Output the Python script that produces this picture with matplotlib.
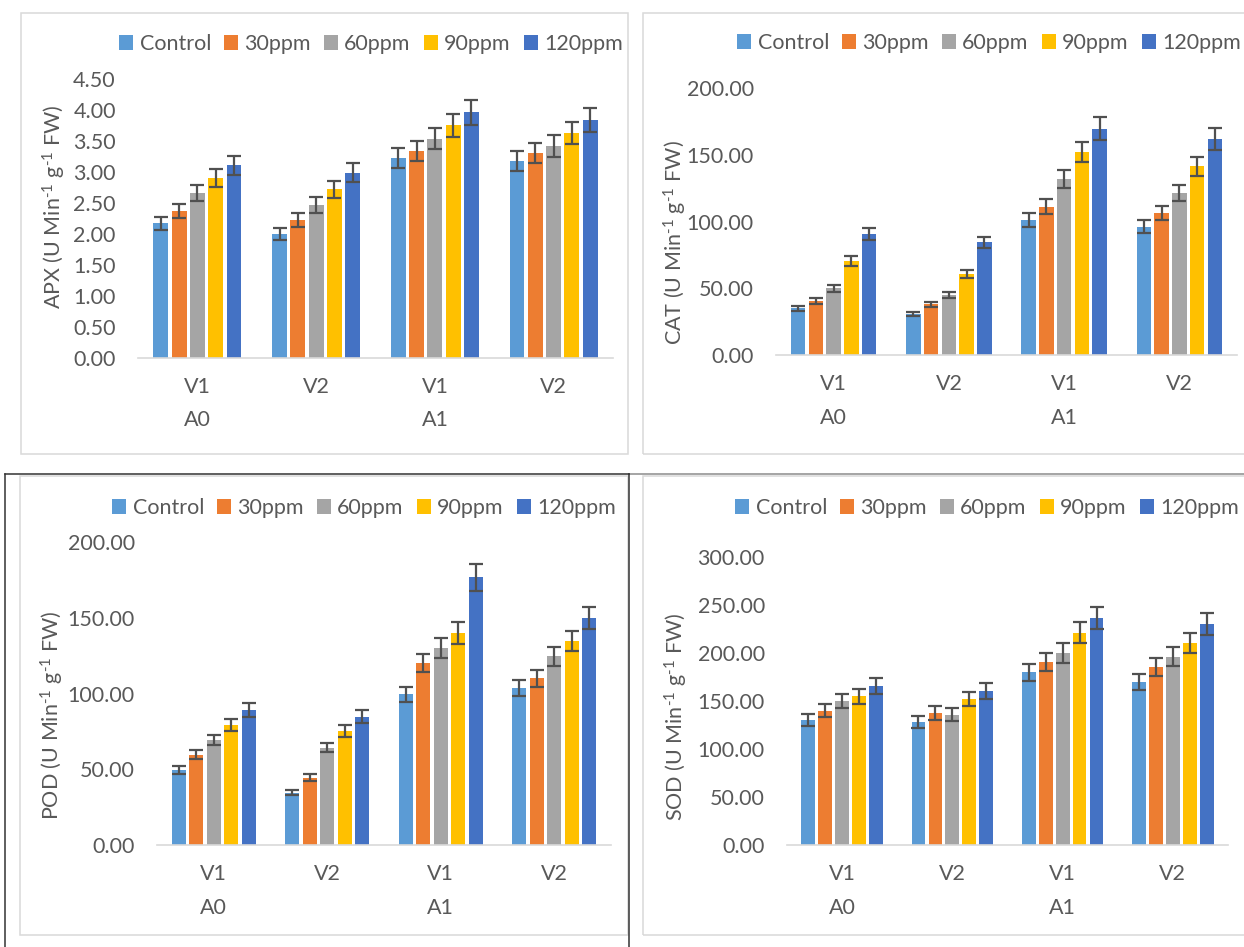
import numpy as np
import matplotlib
matplotlib.use("Agg")
import matplotlib.pyplot as plt
from matplotlib.patches import Rectangle
from matplotlib.lines import Line2D

plt.rcParams['font.family'] = ['Lato', 'DejaVu Sans']
plt.rcParams['mathtext.fontset'] = 'custom'
plt.rcParams['mathtext.rm'] = 'Lato'
plt.rcParams['mathtext.default'] = 'regular'

# categories
varieties = ['V1', 'V2', 'V1', 'V2']
levels = ['A0', 'A1']
treatments = ['Control', '30ppm', '60ppm', '90ppm', '120ppm']
colors = ['#5B9BD5', '#ED7D31', '#A5A5A5', '#FFC000', '#4472C4']

# rows = treatments, columns = V1/A0, V2/A0, V1/A1, V2/A1
apx = [[2.17, 2.00, 3.23, 3.18],
       [2.37, 2.23, 3.34, 3.31],
       [2.66, 2.47, 3.54, 3.42],
       [2.90, 2.72, 3.75, 3.63],
       [3.11, 2.99, 3.96, 3.84]]

cat = [[35.0, 31.0, 101.0, 96.0],
       [40.5, 38.0, 111.0, 106.5],
       [50.0, 45.0, 132.0, 121.5],
       [70.5, 60.5, 152.0, 141.5],
       [90.5, 84.5, 169.5, 162.0]]

pod = [[49.6, 34.6, 99.6, 103.5],
       [59.5, 44.5, 120.0, 110.0],
       [69.4, 64.3, 130.0, 124.7],
       [79.3, 75.3, 140.0, 134.6],
       [89.2, 84.8, 176.7, 149.8]]

sod = [[130.0, 128.0, 180.0, 170.0],
       [140.0, 137.5, 190.5, 185.5],
       [150.0, 135.5, 200.0, 196.0],
       [155.0, 152.0, 221.0, 210.5],
       [165.5, 160.5, 236.5, 230.0]]

# error bars are 5 % of the mean
ERR_FRAC = 0.05

W, H = 1244, 947
TXT = '#595959'
FS = 15.5


def fx(x):
	return x / W


def fy(y):
	return 1 - y / H


def fig_line(fig, x0, y0, x1, y1, color, lw=1.1):
	fig.add_artist(Line2D([fx(x0), fx(x1)], [fy(y0), fy(y1)], transform=fig.transFigure,
	                      color=color, lw=lw))


def fig_box(fig, x0, y0, x1, y1, color='#D9D9D9'):
	fig.add_artist(Rectangle((fx(x0), fy(y1)), (x1 - x0) / W, (y1 - y0) / H,
	                         transform=fig.transFigure, fill=False, edgecolor=color, lw=1.1))


def draw_panel(fig, data, name, ymax, ystep, box, legend_xy, ylabel_xy):
	x0, y0, x1, y1 = box
	ax = fig.add_axes([fx(x0), fy(y1), (x1 - x0) / W, (y1 - y0) / H])
	data = np.array(data)
	x = np.arange(len(varieties))
	pitch, width = 0.154, 0.125

	for i, (lbl, col) in enumerate(zip(treatments, colors)):
		vals = data[i]
		ax.bar(x + (i - 2) * pitch, vals, width, color=col, label=lbl,
		       yerr=vals * ERR_FRAC,
		       error_kw=dict(ecolor='#505050', elinewidth=1.6, capsize=5, capthick=1.6))

	ax.set_xlim(-0.5, len(varieties) - 0.5)
	ax.set_ylim(0, ymax)
	ticks = np.arange(0, ymax + ystep / 2, ystep)
	ax.set_yticks(ticks)
	ax.set_yticklabels(['%.2f' % t for t in ticks])
	ax.set_xticks(x)
	ax.set_xticklabels(varieties)
	ax.tick_params(axis='both', length=0, labelsize=FS, labelcolor=TXT)
	ax.tick_params(axis='y', pad=16)
	ax.tick_params(axis='x', pad=14)
	for s in ['top', 'right', 'left']:
		ax.spines[s].set_visible(False)
	ax.spines['bottom'].set_color('#D9D9D9')
	ax.spines['bottom'].set_linewidth(1.2)

	# second row of category labels
	for j, lvl in enumerate(levels):
		ax.annotate(lvl, xy=(2 * j, 0), xycoords=('data', 'axes fraction'),
		            xytext=(0, -45), textcoords='offset points',
		            ha='center', va='center', fontsize=FS, color=TXT)

	h, l = ax.get_legend_handles_labels()
	fig.legend(h, l, loc='center', bbox_to_anchor=(fx(legend_xy[0]), fy(legend_xy[1])),
	           ncol=5, frameon=False, fontsize=FS, labelcolor=TXT,
	           handlelength=0.65, handleheight=0.65, handletextpad=0.3,
	           columnspacing=0.6, borderpad=0, borderaxespad=0)

	fig.text(fx(ylabel_xy[0]), fy(ylabel_xy[1]),
	         name + r' (U Min$^{\text{-1}}$ g$^{\text{-1}}$ FW)',
	         rotation=90, ha='center', va='center', fontsize=FS, color=TXT)
	return ax


fig = plt.figure(figsize=(W / 100, H / 100), dpi=100)

# panel frames
fig_box(fig, 21, 13, 628, 454)
fig_box(fig, 643, 13, 1260, 454)
fig_box(fig, 20, 476, 628, 935)
fig_box(fig, 643, 476, 1260, 935)
fig_line(fig, 629, 474, 1244, 474, '#8C8C8C')
fig_line(fig, 5, 474, 629, 474, '#333333')
fig_line(fig, 5, 474, 5, 947, '#333333')
fig_line(fig, 629, 474, 629, 947, '#333333')

draw_panel(fig, apx, 'APX', 4.5, 0.5, (138, 79, 613, 358), (371, 44), (54, 207))
draw_panel(fig, cat, 'CAT', 200, 50, (776, 88, 1237, 355), (989, 43), (675, 243))
draw_panel(fig, pod, 'POD', 200, 50, (157, 542, 611, 845), (364, 508), (52, 715))
draw_panel(fig, sod, 'SOD', 300, 50, (787, 557, 1228, 845), (987, 508), (676, 717))

fig.savefig('out.png', dpi=100)
